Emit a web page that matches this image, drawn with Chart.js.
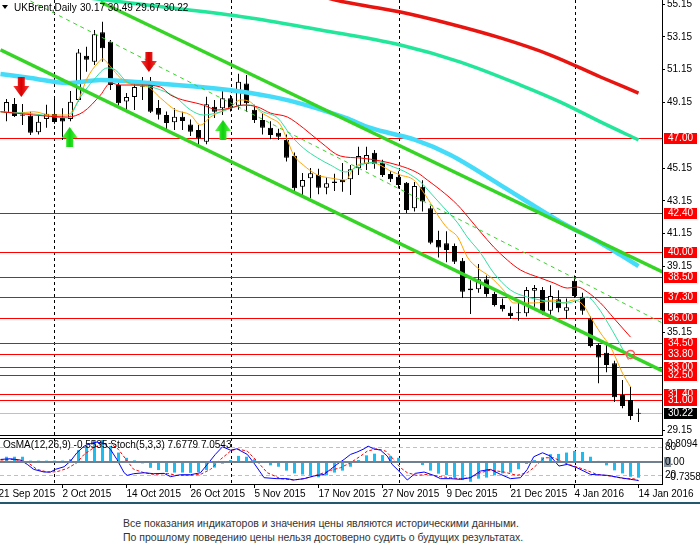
<!DOCTYPE html>
<html><head><meta charset="utf-8">
<script src="https://cdn.jsdelivr.net/npm/chart.js@4.4.1/dist/chart.umd.min.js"></script>
<style>
html,body{margin:0;padding:0;background:#fff;}
body{width:700px;height:552px;position:relative;overflow:hidden;font-family:"Liberation Sans",Arial,sans-serif;}
#c1{position:absolute;left:0;top:0;}
#c2{position:absolute;left:0;top:437px;}
#rule{position:absolute;left:0;top:502px;width:700px;height:2px;background:#23596b;}
#note{position:absolute;left:123px;top:516px;font-size:10.5px;line-height:14px;color:#333;white-space:nowrap;}
</style></head><body>
<canvas id="c1" width="700" height="436"></canvas>
<canvas id="c2" width="700" height="63"></canvas>
<div id="rule"></div>
<div id="note">Все показания индикаторов и значения цены являются историческими данными.<br>По прошлому поведению цены нельзя достоверно судить о будущих результатах.</div>
<script>
// ---------- DATA ----------
const symbolTitle = "UKBrent,Daily";
const lastOHLC = "30.17 30.49 29.67 30.22";
const opens  = [48.50,49.05,48.42,48.34,47.33,48.14,48.44,48.20,48.14,49.30,52.00,51.63,53.42,52.85,50.21,49.20,49.48,50.10,50.47,48.81,
                48.38,47.94,48.28,47.81,47.47,46.75,48.89,48.79,49.40,48.95,50.30,48.70,48.08,47.61,47.30,46.86,45.90,44.01,44.52,44.72,
                43.95,44.32,44.42,44.46,45.13,45.39,46.08,45.47,44.78,44.62,44.25,42.69,44.01,42.69,40.76,40.56,40.40,39.50,37.81,37.75,
                38.36,37.47,36.80,36.33,36.30,36.29,37.67,37.71,36.45,37.15,36.45,38.28,37.30,35.98,34.36,33.89,33.24,31.31,31.00,30.17];
const highs  = [49.35,49.42,49.05,48.58,48.35,49.00,49.50,48.80,49.85,52.40,52.55,53.56,54.07,52.95,50.33,49.72,50.33,50.70,50.70,49.30,
                48.60,48.80,48.58,48.10,47.77,49.50,49.30,49.90,49.60,50.90,50.82,49.00,48.50,48.00,47.55,47.20,46.10,44.85,45.15,45.10,
                44.60,44.80,45.45,45.33,46.45,46.45,46.25,45.65,44.95,44.95,44.30,44.30,44.40,42.85,41.33,41.30,40.55,39.66,38.30,39.30,
                38.60,37.60,37.20,36.70,36.92,37.90,38.02,37.90,38.00,37.70,37.20,38.60,37.55,36.10,34.46,34.40,33.40,32.22,31.81,30.49];
const lows   = [48.00,48.26,47.77,47.16,47.20,47.60,47.85,46.85,48.00,49.20,51.02,51.43,51.63,49.90,48.87,48.69,48.69,49.30,48.50,48.10,
                47.45,47.47,47.47,47.10,46.45,46.60,48.20,48.38,48.60,48.70,48.58,47.90,47.20,46.90,46.85,45.55,43.75,43.50,43.30,43.55,
                43.55,43.75,43.70,43.50,44.72,45.03,45.10,44.60,44.30,43.90,42.40,42.50,42.50,40.50,39.70,39.40,39.30,37.22,36.25,37.55,
                37.30,36.70,36.40,35.95,35.84,36.10,36.69,36.20,36.20,36.35,35.95,37.22,36.20,34.20,32.02,32.70,30.88,30.50,29.78,29.67];
const closes = [49.17,48.32,48.34,47.30,47.97,48.46,47.95,47.98,49.19,52.20,51.75,53.30,52.45,50.21,49.10,49.48,50.09,50.15,48.58,48.40,
                47.90,48.28,48.02,47.36,46.96,49.03,48.58,49.40,48.80,50.41,49.10,48.08,47.61,47.16,47.06,45.78,43.91,44.42,44.83,43.95,
                44.22,44.24,44.28,45.07,45.88,45.94,45.39,44.72,44.46,44.11,42.59,44.05,43.10,40.60,40.31,40.15,39.44,37.60,37.70,38.36,
                37.47,36.80,36.53,36.13,36.35,37.71,37.83,36.39,37.35,36.60,36.66,37.35,36.45,34.30,33.60,33.14,31.17,30.64,30.03,30.22];

const dateTickBars   = [-1,7,15,23,31,39,47,55,63,71,79];
const dateTickLabels = ["21 Sep 2015","2 Oct 2015","14 Oct 2015","26 Oct 2015","5 Nov 2015","17 Nov 2015",
                        "27 Nov 2015","9 Dec 2015","21 Dec 2015","4 Jan 2016","14 Jan 2016"];
const separatorBars  = [6,28,49,71];
const priceTicks = [29.15,35.15,39.15,41.15,43.15,45.15,49.15,51.15,53.15,55.15];
const levels = [47.00,42.40,40.00,38.50,37.30,36.00,34.50,33.80,33.00,32.50,31.40,31.00];
const lastPrice = 30.22;

// moving averages (bar index, value)
const maFastK = [-0.75,1.4,3.4,5.5,7.6,8.9,10.1,11.4,12,13,14.25,15.9,17.6,19.25,21.1,23,24.25,25.5,28,29.25,30.5,31.75,33,34.25,35.1,35.9,37.1,38.9,40.5,42.4,43.4,45.1,46.4,48,49.25,50.9,52.6,53.9,55.1,56.4,57.6,58.9,60.5,62.1,63.4,65.9,67.1,68.4,69.6,70.9,72.1,73,74.25,75.5,76.1,77,78];
const maFastV = [48.58,48.50,48.58,48.38,48.38,49.19,50.64,51.55,51.80,51.33,50.64,50.21,50.11,49.42,48.69,48.38,47.77,48.26,48.87,49.30,49.17,48.57,48.20,47.77,46.86,45.94,45.33,44.72,44.54,44.42,45.15,45.46,45.39,44.97,44.72,44.42,43.32,42.28,41.49,40.94,39.72,39.05,38.50,37.71,36.92,36.92,36.98,37.10,36.92,37.10,36.79,36.06,35.09,34.24,33.63,32.64,31.80];
const maMidK = [-0.75,3.4,7.6,9.25,10.9,12.6,13.6,15.1,17.1,19.25,21.1,23,24.6,26.75,28.9,30.5,32.1,33.9,35.5,37.1,38.9,40.5,42.4,44.25,46.4,48.4,50.1,51.75,53,54.6,56.4,57.6,59.25,60.9,63,65.1,66.75,68.4,70.1,71.4,72.6,73.9,75.1,76.4,77.75];
const maMidV = [48.58,48.45,48.20,49.48,50.52,51.25,51.13,50.39,50.21,49.91,49.48,48.69,48.38,48.57,48.93,48.99,48.57,48.20,47.16,46.37,45.76,45.33,44.91,45.33,45.52,45.21,44.85,44.30,43.63,42.77,41.80,40.94,39.97,38.75,37.71,37.28,37.10,36.98,36.92,37.10,37.28,36.67,35.76,34.66,33.44];
const maSlowK = [-0.75,7.6,9.6,11.75,13,14.25,16.75,19.25,20.5,24.6,26.4,28,29.6,31.4,33,35.1,37.1,39.25,41.75,44.25,46.75,48.9,51.4,52.6,54.25,56.4,58,59.25,60.9,62.6,64.25,66.75,68.4,70.1,71.4,72.6,74.25,75.9,78];
const maSlowV = [48.58,48.26,48.57,49.60,50.33,50.21,50.21,50.09,49.60,48.99,48.69,48.81,48.99,48.87,48.50,48.26,47.59,46.73,45.88,45.76,45.58,45.33,44.85,44.42,43.81,42.89,41.98,41.25,40.33,39.54,38.93,38.44,38.14,37.83,37.89,37.59,36.92,36.00,34.84];
const maCyanK = [-0.75,3,7.6,11.75,18,24.25,30.5,35.5,42.4,45.5,51.1,55.5,61.75,69.25,74.25,76.75,79];
const maCyanV = [50.88,50.64,50.33,50.52,50.33,50.09,49.72,49.24,48.20,47.59,46.86,45.94,44.11,41.86,40.58,39.85,39.17];
const maMintK = [9.25,12.4,21.75,30.5,39.25,49.25,56.75,64.25,69.25,74.25,79];
const maMintV = [55.58,55.39,54.85,54.30,53.57,52.65,51.61,50.21,49.17,47.96,46.86];
const maLongK = [39.25,41.1,49.25,55.5,61.75,68,74.25,79];
const maLongV = [55.64,55.39,54.66,53.93,53.08,52.04,50.70,49.72];

// trend lines
const trendUpperK = [11.75,82], trendUpperV = [55.27,38.81];
const trendLowerK = [-0.75,82], trendLowerV = [52.35,32.77];
const trendDashK  = [3,82],     trendDashV  = [55.33,35.70];

// signals
const arrowDownK = [1.85,17.8], arrowDownP = [49.48,51.00];
const arrowUpK   = [7.9,27.06], arrowUpP   = [47.65,48.08];
const markK = [78], markP = [33.78];

// indicator pane
const osma = [0.20,0.20,0.20,0.06,0.06,0.06,0.06,0.06,0.11,0.44,0.59,0.78,0.80,0.59,0.35,0.16,0.07,-0.04,-0.20,-0.28,
              -0.35,-0.37,-0.37,-0.38,-0.35,-0.28,-0.19,-0.05,0.08,0.23,0.20,0.11,-0.01,-0.11,-0.16,-0.30,-0.40,-0.44,-0.49,-0.54,
              -0.47,-0.37,-0.30,-0.16,0.08,0.25,0.31,0.26,0.23,0.16,0.02,-0.01,-0.10,-0.30,-0.41,-0.46,-0.55,-0.64,-0.70,-0.59,
              -0.55,-0.47,-0.40,-0.37,-0.25,-0.06,0.08,0.18,0.29,0.30,0.35,0.41,0.37,0.20,0.05,-0.11,-0.29,-0.40,-0.52,-0.5535];
const stochMainK = [-0.75,0.5,1.75,2.6,3.4,4.7,5.5,6.1,7.2,8,8.8,9.7,10.5,11.3,12.2,13,13.8,14.7,15.1,15.9,17.2,18.4,19.7,20.5,21.75,23,24.25,25.1,26.1,27,28,28.8,30.1,30.9,32.2,33.8,35.1,35.9,37.2,38.4,39.7,
                    40.5,41.3,42.2,43,43.8,44.7,45.2,45.9,46.75,47.6,48.2,49.05,50.1,51.1,52.2,53.4,54.25,55.5,56.75,58,59.25,60.5,61.75,63,64.25,65.1,65.9,67,68,69.05,70.1,71.3,73,75.1,76.75,78,79];
const stochMainV = [53.4,54.9,52.0,42.6,31.8,26.0,26.0,31.8,37.5,49.8,67.9,82.3,88.1,91.0,88.1,75.1,53.4,24.5,18.8,22.4,24.5,22.4,23.1,15.9,20.2,20.2,24.5,42.6,64.3,80.9,73.6,76.5,64.3,46.2,13.7,11.6,11.6,8.7,11.6,17.3,20.9,
                    31.8,42.6,53.4,64.3,69.3,76.5,82.3,76.5,73.6,60.6,42.6,28.2,8.7,23.1,26.0,18.8,11.6,11.6,10.1,13.7,28.2,31.8,20.9,11.6,13.7,31.8,59.2,67.9,60.6,39.0,42.6,35.4,20.9,18.8,13.7,10.1,7.68];
const stochSigK = [-0.75,0.9,2.6,3.8,5.1,6.3,7.6,8.8,9.7,10.9,12,13,14,15.1,15.9,17.2,18.4,20.1,21.3,23,24.25,25.5,26.75,28,28.8,30.1,31.3,32.6,34.25,35.9,37.2,38.4,39.7,
                   40.5,41.75,43,44.25,45.1,46.3,47.4,48.2,49.25,50.1,51.3,52.6,54.25,55.5,56.75,58,59.25,60.5,62.2,63.8,65.1,65.9,67.2,68.4,69.7,70.9,72.2,73.8,75.5,77.2,78.4,79];
const stochSigV = [52.0,53.4,47.7,31.8,26.0,26.7,33.9,46.2,64.3,78.7,88.1,88.1,75.1,49.8,31.8,24.5,20.9,23.1,18.8,18.8,20.9,31.8,53.4,71.5,76.5,71.5,49.8,24.5,11.6,8.7,11.6,17.3,24.5,
                   29.6,35.4,46.2,60.6,71.5,76.5,71.5,57.0,35.4,24.5,18.8,20.9,15.9,13.7,11.6,13.7,24.5,30.3,26.0,18.8,24.5,35.4,57.0,57.0,46.2,39.0,31.8,20.9,17.3,11.6,11.6,7.05];
const paneTitle = "OsMA(12,26,9) -0.5535 Stoch(5,3,3) 7.6779 7.0543";
const osmaMax = "0.8094", osmaMin = "-0.7358";

// ---------- RENDER ----------
const FONT = '"Liberation Sans", Arial, sans-serif';
Chart.defaults.font.family = FONT;
Chart.defaults.font.size = 10;
Chart.defaults.color = '#000';
const X_MIN = -0.8125, X_MAX = 81.9375;

const pts = (ks, vs) => ks.map((k, i) => ({x: k, y: vs[i]}));
const lineDs = (ks, vs, color, width, extra) => Object.assign({
  type: 'line', data: pts(ks, vs), borderColor: color, borderWidth: width,
  pointRadius: 0, fill: false, cubicInterpolationMode: 'monotone'
}, extra || {});
const idx = closes.map((c, i) => i);
const zeroPad = s => { s.paddingTop = 0; s.paddingBottom = 0; s.paddingLeft = 0; s.paddingRight = 0; };

function drawArrow(ctx, x, yTip, dir, light, dark) {
  const hw = 8, sw = 3.5, headH = 11, shaftH = 9;
  const d = dir; // 1 = pointing down (tip at bottom), -1 = pointing up
  ctx.beginPath();
  ctx.moveTo(x, yTip);
  ctx.lineTo(x - hw, yTip - d * headH);
  ctx.lineTo(x - sw, yTip - d * headH);
  ctx.lineTo(x - sw, yTip - d * (headH + shaftH));
  ctx.lineTo(x + sw, yTip - d * (headH + shaftH));
  ctx.lineTo(x + sw, yTip - d * headH);
  ctx.lineTo(x + hw, yTip - d * headH);
  ctx.closePath();
  const g = ctx.createLinearGradient(x - hw, 0, x + hw, 0);
  g.addColorStop(0, light); g.addColorStop(0.5, dark); g.addColorStop(1, light);
  ctx.fillStyle = g; ctx.fill();
}

const mainDeco = {
  id: 'mainDeco',
  beforeDatasetsDraw(chart) {
    const {ctx, chartArea: a, scales: {x, y}} = chart;
    ctx.save();
    ctx.lineWidth = 1;
    ctx.strokeStyle = '#000'; ctx.setLineDash([3, 3]);
    separatorBars.forEach(k => {
      const px = Math.round(x.getPixelForValue(k)) + 0.5;
      ctx.beginPath(); ctx.moveTo(px, a.top); ctx.lineTo(px, a.bottom); ctx.stroke();
    });
    ctx.setLineDash([]);
    ctx.strokeStyle = '#c0c0c0';
    let py = Math.round(y.getPixelForValue(lastPrice)) + 0.5;
    ctx.beginPath(); ctx.moveTo(a.left, py); ctx.lineTo(a.right, py); ctx.stroke();
    ctx.strokeStyle = '#ff0000';
    levels.forEach(v => {
      const ly = Math.round(y.getPixelForValue(v)) + 0.5;
      ctx.beginPath(); ctx.moveTo(a.left, ly); ctx.lineTo(a.right, ly); ctx.stroke();
    });
    ctx.restore();
  },
  afterDatasetsDraw(chart) {
    const {ctx, scales: {x, y}} = chart;
    ctx.save();
    arrowDownK.forEach((k, i) => drawArrow(ctx, x.getPixelForValue(k), y.getPixelForValue(arrowDownP[i]), 1, '#ff3a3a', '#d80000'));
    arrowUpK.forEach((k, i) => drawArrow(ctx, x.getPixelForValue(k), y.getPixelForValue(arrowUpP[i]), -1, '#59ff40', '#10d010'));
    ctx.strokeStyle = '#ff5a5a'; ctx.lineWidth = 1.5;
    markK.forEach((k, i) => {
      ctx.beginPath(); ctx.arc(x.getPixelForValue(k), y.getPixelForValue(markP[i]), 4, 0, Math.PI * 2); ctx.stroke();
    });
    ctx.restore();
  },
  afterDraw(chart) {
    const {ctx, chartArea: a, scales: {y}} = chart;
    ctx.save();
    ctx.font = '10px ' + FONT;
    ctx.textBaseline = 'middle';
    levels.forEach(v => {
      const ly = Math.round(y.getPixelForValue(v));
      ctx.fillStyle = '#ff0000'; ctx.fillRect(a.right + 2, ly - 5, 33, 11);
      ctx.fillStyle = '#fff'; ctx.fillText(v.toFixed(2), a.right + 6, ly + 0.5);
    });
    const ly = Math.round(y.getPixelForValue(lastPrice));
    ctx.fillStyle = '#000'; ctx.fillRect(a.right + 2, ly - 5, 33, 11);
    ctx.fillStyle = '#fff'; ctx.fillText(lastPrice.toFixed(2), a.right + 6, ly + 0.5);
    // bottom border
    ctx.strokeStyle = '#000'; ctx.lineWidth = 1;
    ctx.beginPath(); ctx.moveTo(0, a.bottom + 0.5); ctx.lineTo(a.right, a.bottom + 0.5); ctx.stroke();
    // title
    ctx.fillStyle = '#000';
    ctx.beginPath(); ctx.moveTo(2, 5); ctx.lineTo(8, 5); ctx.lineTo(5, 9); ctx.closePath(); ctx.fill();
    ctx.fillText(symbolTitle, 14, 8);
    ctx.fillText(lastOHLC, 80, 8);
    ctx.restore();
  }
};

new Chart(document.getElementById('c1'), {
  type: 'bar',
  data: {datasets: [
    lineDs(trendUpperK, trendUpperV, '#35d425', 3.5, {order: 1, cubicInterpolationMode: 'default', tension: 0}),
    lineDs(trendLowerK, trendLowerV, '#35d425', 3.5, {order: 1, cubicInterpolationMode: 'default', tension: 0}),
    lineDs(trendDashK, trendDashV, '#35d425', 1, {order: 1, borderDash: [4, 4], cubicInterpolationMode: 'default', tension: 0}),
    lineDs(maCyanK, maCyanV, '#44dcf8', 4.5, {order: 3}),
    lineDs(maMintK, maMintV, '#22e69a', 3.5, {order: 3}),
    lineDs(maLongK, maLongV, '#e81410', 3.5, {order: 3}),
    lineDs(maSlowK, maSlowV, '#ff0000', 1, {order: 2}),
    lineDs(maMidK, maMidV, '#2ee0a0', 1, {order: 2}),
    lineDs(maFastK, maFastV, '#ffa500', 1, {order: 2}),
    {type: 'bar', order: 5, grouped: false, barThickness: 5, borderWidth: 1, borderColor: '#000',
     borderSkipped: false, inflateAmount: 0, minBarLength: 1,
     backgroundColor: c => (closes[c.dataIndex] >= opens[c.dataIndex] ? '#fff' : '#000'),
     data: idx.map(i => ({x: i, y: [opens[i], closes[i]]}))},
    {type: 'bar', order: 6, grouped: false, barThickness: 1, borderWidth: 0, inflateAmount: 0,
     backgroundColor: '#000',
     data: idx.map(i => ({x: i, y: [lows[i], highs[i]]}))}
  ]},
  options: {
    responsive: false, animation: false, devicePixelRatio: 1,
    layout: {padding: {top: 0, bottom: 1, left: 0, right: 0}},
    plugins: {legend: {display: false}, tooltip: {enabled: false}},
    scales: {
      x: {type: 'linear', min: X_MIN, max: X_MAX, bounds: 'data', offset: false, display: false, grid: {offset: false}},
      y: {type: 'linear', position: 'right', min: 28.87, max: 55.394, bounds: 'data',
          afterFit: s => { s.width = 38; zeroPad(s); },
          afterBuildTicks: s => { s.ticks = priceTicks.map(v => ({value: v})); },
          ticks: {padding: 2, color: '#000', font: {size: 10}, callback: v => Number(v).toFixed(2)},
          grid: {drawOnChartArea: false, tickLength: 3, color: '#000'},
          border: {display: true, color: '#000'}}
    }
  },
  plugins: [mainDeco]
});

const paneDeco = {
  id: 'paneDeco',
  beforeDatasetsDraw(chart) {
    const {ctx, chartArea: a, scales: {x, ys, yo}} = chart;
    ctx.save();
    ctx.lineWidth = 1;
    ctx.strokeStyle = '#c0c0c0'; ctx.setLineDash([4, 3]);
    [80, 20].forEach(v => {
      const py = Math.round(ys.getPixelForValue(v)) + 0.5;
      ctx.beginPath(); ctx.moveTo(a.left, py); ctx.lineTo(a.right, py); ctx.stroke();
    });
    ctx.strokeStyle = '#000'; ctx.setLineDash([3, 3]);
    separatorBars.forEach(k => {
      const px = Math.round(x.getPixelForValue(k)) + 0.5;
      ctx.beginPath(); ctx.moveTo(px, a.top); ctx.lineTo(px, a.bottom); ctx.stroke();
    });
    ctx.setLineDash([]);
    ctx.restore();
  },
  afterDatasetsDraw(chart) {
    const {ctx, chartArea: a, scales: {yo}} = chart;
    ctx.save();
    ctx.strokeStyle = '#708090'; ctx.lineWidth = 2;
    const zy = Math.round(yo.getPixelForValue(0));
    ctx.beginPath(); ctx.moveTo(a.left, zy); ctx.lineTo(a.right, zy); ctx.stroke();
    ctx.restore();
  },
  afterDraw(chart) {
    const {ctx, chartArea: a, scales: {ys, yo}} = chart;
    ctx.save();
    ctx.strokeStyle = '#000'; ctx.lineWidth = 1;
    ctx.beginPath(); ctx.moveTo(0, a.top + 0.5); ctx.lineTo(a.right, a.top + 0.5); ctx.stroke();
    ctx.font = '10px ' + FONT; ctx.textBaseline = 'middle'; ctx.fillStyle = '#000';
    ctx.fillText(paneTitle, 3, a.top + 7.5);
    const r = a.right;
    const y80 = ys.getPixelForValue(80), y20 = ys.getPixelForValue(20), y0 = Math.round(yo.getPixelForValue(0));
    ctx.fillText('80', r + 3, y80);
    ctx.fillText(osmaMax, r + 5, y80 - 3);
    ctx.fillStyle = '#8a96a3'; ctx.fillRect(r + 2, y0 - 5, 7, 10);
    ctx.fillStyle = '#000';
    ctx.fillText('0.00', r + 3, y0);
    ctx.fillText('20', r + 3, y20);
    ctx.fillText(osmaMin, r + 5, y20 + 2.5);
    ctx.restore();
  }
};

new Chart(document.getElementById('c2'), {
  type: 'bar',
  data: {datasets: [
    {type: 'line', yAxisID: 'ys', data: pts(stochMainK, stochMainV), borderColor: '#0000ff', borderWidth: 1, pointRadius: 0, order: 0, tension: 0},
    {type: 'line', yAxisID: 'ys', data: pts(stochSigK, stochSigV), borderColor: '#ff0000', borderWidth: 1, borderDash: [3, 2], pointRadius: 0, order: 1, tension: 0},
    {type: 'bar', yAxisID: 'yo', order: 2, grouped: false, barThickness: 3, inflateAmount: 0, borderWidth: 0,
     backgroundColor: '#1cbef2', data: osma.map((v, i) => ({x: i, y: v}))}
  ]},
  options: {
    responsive: false, animation: false, devicePixelRatio: 1,
    layout: {padding: {top: 1, bottom: 0, left: 0, right: 0}},
    plugins: {legend: {display: false}, tooltip: {enabled: false}},
    scales: {
      x: {type: 'linear', position: 'bottom', min: X_MIN, max: X_MAX, bounds: 'data', offset: false,
          afterFit: s => { s.height = 16; zeroPad(s); },
          afterBuildTicks: s => { s.ticks = dateTickBars.map(v => ({value: v})); },
          ticks: {autoSkip: false, maxRotation: 0, minRotation: 0, align: 'start', padding: 0, color: '#000', font: {size: 10},
                  callback: (v, i) => dateTickLabels[i]},
          grid: {drawOnChartArea: false, tickLength: 4, color: '#000', offset: false},
          border: {display: true, color: '#000'}},
      ys: {type: 'linear', position: 'right', min: 0, max: 100, bounds: 'data',
           afterFit: s => { s.width = 38; zeroPad(s); },
           ticks: {display: false}, grid: {display: false, drawTicks: false},
           border: {display: true, color: '#000'}},
      yo: {type: 'linear', display: false, min: -0.781, max: 0.874, bounds: 'data'}
    }
  },
  plugins: [paneDeco]
});
</script>
</body></html>
